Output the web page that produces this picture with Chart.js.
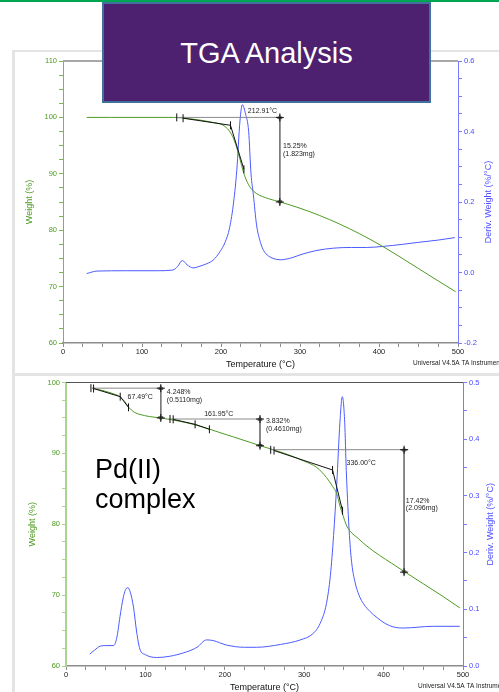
<!DOCTYPE html>
<html>
<head>
<meta charset="utf-8">
<script src="https://cdn.jsdelivr.net/npm/chart.js@4.4.1/dist/chart.umd.min.js"></script>
<style>
body { margin: 0; width: 499px; height: 692px; overflow: hidden; background: #fff; position: relative;
       font-family: "Liberation Sans", Arial, sans-serif; }
.abs { position: absolute; }
#greenbar { left: 0; top: 0; width: 499px; height: 2px; background: #00a651; }
#frameTop { left: 13px; top: 50px; width: 486px; height: 2px; background: #e4e4e4; }
#frameLeft { left: 12px; top: 50px; width: 3px; height: 642px; background: #e4e4e4; }
#frameMid { left: 13px; top: 373px; width: 486px; height: 3px; background: #e4e4e4; }
#c1 { left: 15px; top: 52px; }
#c2 { left: 15px; top: 376px; }
#title { left: 102px; top: 2px; width: 329px; height: 101px; box-sizing: border-box; border: 2px solid #41719c;
         background: #4e2170; color: #fff; font-size: 29px; display: flex; align-items: center;
         justify-content: center; padding-top: 2px; }
#pd { left: 95px; top: 454px; font-size: 27px; line-height: 30px; color: #000; }
</style>
</head>
<body>
<div id="greenbar" class="abs"></div>
<div id="frameTop" class="abs"></div>
<div id="frameLeft" class="abs"></div>
<div id="frameMid" class="abs"></div>
<canvas id="c1" class="abs" width="484" height="321"></canvas>
<canvas id="c2" class="abs" width="484" height="316"></canvas>
<div id="title" class="abs">TGA Analysis</div>
<div id="pd" class="abs">Pd(II)<br>complex</div>
<script>
// ---- top run ----
const tempWeightTop = [30, 60, 100, 140, 150, 170, 190, 200, 205, 211, 216, 220, 224, 228, 232, 237, 245, 260, 275, 300, 325, 350, 375, 400, 425, 450, 475, 497];
const weightTop = [100, 100, 100, 100, 99.9, 99.6, 99.1, 98.8, 98.4, 97.5, 96.2, 94.6, 92.6, 90.5, 88.9, 87.6, 86.5, 85.6, 85.0, 83.9, 82.6, 81.1, 79.4, 77.5, 75.4, 73.2, 71.0, 69.1];
const tempDerivTop = [30, 43, 80, 120, 139, 145, 151, 157, 165, 172, 182, 190, 199, 205, 211, 216, 220, 224, 227, 231, 235, 238, 241, 245, 250, 254, 260, 266, 275, 290, 300, 320, 342, 365, 384, 405, 430, 448, 475, 496];
const derivTop = [-0.003, 0.004, 0.005, 0.005, 0.007, 0.017, 0.034, 0.022, 0.013, 0.017, 0.025, 0.035, 0.06, 0.085, 0.128, 0.2, 0.29, 0.43, 0.476, 0.45, 0.40, 0.28, 0.22, 0.135, 0.085, 0.062, 0.047, 0.04, 0.036, 0.042, 0.05, 0.062, 0.069, 0.071, 0.071, 0.074, 0.08, 0.085, 0.092, 0.099];

const tangentTempTop = [[152, 212, 229]];
const tangentWeightTop = [[99.86, 98.6, 90.8]];
const markTempTop = [144, 152, 212, 229];
const markWeightTop = [100, 99.86, 98.6, 90.8];
const stepStartTop = [144];
const stepEndTop = [277];
const stepArrowTop = [274.5];
const stepFromTop = [100];
const stepToTop = [85.0];
const noteTextTop = ['212.91°C', '15.25%', '(1.823mg)'];
const noteTempTop = [234, 278.5, 278.5];
const noteWeightTop = [101.05, 94.9, 93.5];

// ---- bottom run (Pd(II) complex) ----
const tempWeightBottom = [33, 45, 60, 68, 74, 79, 86, 93, 105, 119, 140, 160, 181, 210, 232, 244, 274, 300, 316, 328, 336, 341, 345, 349, 353, 358, 368, 378, 395, 410, 425, 450, 475, 496];
const weightBottom = [99.2, 98.9, 98.4, 98.0, 97.3, 96.5, 95.8, 95.5, 95.2, 95.0, 94.6, 94.1, 93.4, 92.35, 91.55, 91.1, 90.05, 88.9, 88.0, 86.6, 85.3, 84.3, 82.6, 81.2, 79.9, 79.0, 78.0, 77.0, 75.6, 74.5, 73.4, 71.6, 69.8, 68.2];
const tempDerivBottom = [30, 36, 43, 50, 60, 64, 68, 72, 76, 78, 81, 85, 89, 93, 100, 114, 130, 152, 165, 177, 185, 202, 225, 240, 270, 295, 311, 320, 328, 333, 337, 341, 345, 348, 351, 353, 357, 360, 364, 369, 375, 383, 392, 402, 412, 425, 462, 496];
const derivBottom = [0.021, 0.028, 0.035, 0.036, 0.036, 0.05, 0.087, 0.12, 0.137, 0.138, 0.13, 0.104, 0.06, 0.03, 0.02, 0.015, 0.017, 0.025, 0.033, 0.046, 0.045, 0.037, 0.033, 0.033, 0.038, 0.046, 0.057, 0.075, 0.11, 0.16, 0.23, 0.321, 0.43, 0.475, 0.43, 0.345, 0.23, 0.18, 0.148, 0.125, 0.109, 0.096, 0.085, 0.075, 0.069, 0.067, 0.07, 0.07];

const tangentTempBottom = [[34.7, 68.3, 78.7], [135, 162.6, 180.6], [262, 335.7, 348.3]];
const tangentWeightBottom = [[99.15, 98.0, 96.5], [94.8, 94.1, 93.4], [90.4, 87.66, 81.9]];
const markTempBottom = [31.4, 34.7, 68.3, 78.7, 131, 135, 162.6, 180.6, 257.8, 262, 335.7, 348.3];
const markWeightBottom = [99.2, 99.15, 98.0, 96.5, 94.85, 94.8, 94.1, 93.4, 90.5, 90.4, 87.66, 81.9];
const stepStartBottom = [32.7, 129, 257];
const stepEndBottom = [122.7, 247, 431];
const stepArrowBottom = [119.4, 244.3, 425.8];
const stepFromBottom = [99.2, 94.85, 90.52];
const stepToBottom = [95.0, 91.08, 73.24];
const noteTextBottom = ['67.49°C', '4.248%', '(0.5110mg)', '161.95°C', '3.832%', '(0.4610mg)', '336.00°C', '17.42%', '(2.096mg)'];
const noteTempBottom = [77.5, 127, 127, 174, 251.8, 251.8, 353.3, 428, 428];
const noteWeightBottom = [98.0, 98.7, 97.5, 95.55, 94.5, 93.4, 88.65, 83.3, 82.25];

Chart.defaults.font.family = '"Liberation Sans", Arial, sans-serif';

const green = '#4e9a22';
const blue = '#4b5bff';

function tgaChart(id, d) {
    const pts = (xs, ys) => xs.map((x, i) => ({x: x, y: ys[i]}));
    const datasets = [];

    // little vertical tick marks where the onset construction touches the curve
    datasets.push({data: pts(d.markT, d.markW), yAxisID: 'yW', showLine: false,
        pointStyle: 'line', pointRotation: 90, pointRadius: 4, pointBorderColor: '#111', pointBorderWidth: 1});

    const crossT = d.arrowT.flatMap(t => [t, t]);
    const crossW = d.arrowT.flatMap((t, i) => [d.fromW[i], d.toW[i]]);
    datasets.push({data: pts(crossT, crossW), yAxisID: 'yW', showLine: false,
        pointStyle: 'cross', pointRadius: 4, pointBorderColor: '#111', pointBorderWidth: 1});

    d.tanT.forEach((ts, i) => {
        datasets.push({data: pts(ts, d.tanW[i]), yAxisID: 'yW', borderColor: '#111', borderWidth: 1, pointRadius: 0});
    });

    d.arrowT.forEach((t, i) => {
        datasets.push({data: pts([t, t], [d.fromW[i], d.toW[i]]), yAxisID: 'yW', borderColor: '#777', borderWidth: 1,
            pointStyle: 'triangle', pointRotation: [0, 180], pointRadius: 2.5,
            pointBorderColor: '#333', pointBackgroundColor: 'rgba(0,0,0,0)', pointBorderWidth: 0.8});
        datasets.push({data: pts([d.startT[i], d.endT[i]], [d.fromW[i], d.fromW[i]]), yAxisID: 'yW',
            borderColor: '#8a8a8a', borderWidth: 1, pointRadius: 0});
    });

    datasets.push({data: pts(d.weightT, d.weight), yAxisID: 'yW', borderColor: green, borderWidth: 1,
        pointRadius: 0, cubicInterpolationMode: 'monotone'});
    datasets.push({data: pts(d.derivT, d.deriv), yAxisID: 'yD', borderColor: blue, borderWidth: 1,
        pointRadius: 0, cubicInterpolationMode: 'monotone'});

    const extras = {
        id: 'extras',
        afterDatasetsDraw(chart) {
            const {ctx, chartArea: a, scales} = chart;
            ctx.save();
            ctx.strokeStyle = d.topLine;
            ctx.lineWidth = d.topLineWidth;
            ctx.beginPath();
            ctx.moveTo(a.left, a.top);
            ctx.lineTo(a.right, a.top);
            ctx.stroke();

            ctx.fillStyle = '#222';
            ctx.font = '7px "Liberation Sans"';
            ctx.textBaseline = 'middle';
            d.noteText.forEach((s, i) => {
                ctx.fillText(s, scales.x.getPixelForValue(d.noteT[i]), scales.yW.getPixelForValue(d.noteW[i]));
            });
            ctx.font = '6.5px "Liberation Sans"';
            ctx.fillText('Universal V4.5A TA Instruments', a.right - 45, a.bottom + 20);

            ctx.font = '9px "Liberation Sans"';
            ctx.textAlign = 'center';
            ctx.fillStyle = '#111';
            ctx.fillText('Temperature (°C)', (a.left + a.right) / 2, a.bottom + 22);

            const mid = (a.top + a.bottom) / 2;
            ctx.save();
            ctx.translate(a.left - 33, mid);
            ctx.rotate(-Math.PI / 2);
            ctx.fillStyle = green;
            ctx.fillText('Weight (%)', 0, 0);
            ctx.restore();

            ctx.save();
            ctx.translate(a.right + d.rightTitle, mid);
            ctx.rotate(-Math.PI / 2);
            ctx.fillStyle = '#5050ff';
            ctx.fillText('Deriv. Weight (%/°C)', 0, 0);
            ctx.restore();
            ctx.restore();
        }
    };

    return new Chart(document.getElementById(id), {
        type: 'line',
        data: {datasets: datasets},
        plugins: [extras],
        options: {
            responsive: false,
            animation: false,
            events: [],
            layout: {padding: {top: d.padTop, left: 0, right: 0, bottom: 0}},
            plugins: {legend: {display: false}, tooltip: {enabled: false}},
            scales: {
                x: {
                    type: 'linear', min: 0, max: 500,
                    border: {color: '#8c8c8c', width: 1.5},
                    grid: {drawOnChartArea: false, color: '#8c8c8c', tickLength: 4},
                    ticks: {stepSize: 25, autoSkip: false, maxRotation: 0, padding: 0, color: '#222',
                        font: {size: 7.5}, callback: v => v % 100 === 0 ? v : ''},
                    afterFit: s => { s.height = d.xHeight; }
                },
                yW: {
                    position: 'left', min: d.wMin, max: d.wMax,
                    border: {color: d.leftLine, width: d.leftLineWidth},
                    grid: {drawOnChartArea: false, color: d.leftLine, tickLength: 4},
                    ticks: {stepSize: 2.5, autoSkip: false, padding: 2, color: green,
                        font: {size: 7.5}, callback: v => v % 10 === 0 ? v : ''},
                    afterFit: s => { s.width = d.leftWidth; }
                },
                yD: {
                    position: 'right', min: d.dMin, max: d.dMax,
                    border: {color: '#7a7aff', width: 1},
                    grid: {drawOnChartArea: false, color: '#7a7aff', tickLength: 4},
                    ticks: {stepSize: 0.05, autoSkip: false, padding: 2, color: '#4a4aff',
                        font: {size: 7.5}, callback: v => Math.round(v * 20) % d.dEvery === 0 ? v.toFixed(1) : ''},
                    afterFit: s => { s.width = d.rightWidth; }
                }
            }
        }
    });
}

tgaChart('c1', {
    weightT: tempWeightTop, weight: weightTop, derivT: tempDerivTop, deriv: derivTop,
    tanT: tangentTempTop, tanW: tangentWeightTop, markT: markTempTop, markW: markWeightTop,
    startT: stepStartTop, endT: stepEndTop, arrowT: stepArrowTop, fromW: stepFromTop, toW: stepToTop,
    noteText: noteTextTop, noteT: noteTempTop, noteW: noteWeightTop,
    wMin: 60, wMax: 110, dMin: -0.2, dMax: 0.6, dEvery: 4,
    padTop: 9, xHeight: 30, leftWidth: 48, rightWidth: 41, rightTitle: 31,
    topLine: '#a8a8a8', topLineWidth: 2, leftLine: '#7cb45a', leftLineWidth: 1
});

tgaChart('c2', {
    weightT: tempWeightBottom, weight: weightBottom, derivT: tempDerivBottom, deriv: derivBottom,
    tanT: tangentTempBottom, tanW: tangentWeightBottom, markT: markTempBottom, markW: markWeightBottom,
    startT: stepStartBottom, endT: stepEndBottom, arrowT: stepArrowBottom, fromW: stepFromBottom, toW: stepToBottom,
    noteText: noteTextBottom, noteT: noteTempBottom, noteW: noteWeightBottom,
    wMin: 60, wMax: 100, dMin: 0, dMax: 0.5, dEvery: 2,
    padTop: 6, xHeight: 26, leftWidth: 51, rightWidth: 36, rightTitle: 28,
    topLine: '#555', topLineWidth: 1, leftLine: '#a8d590', leftLineWidth: 2
});
</script>
</body>
</html>
